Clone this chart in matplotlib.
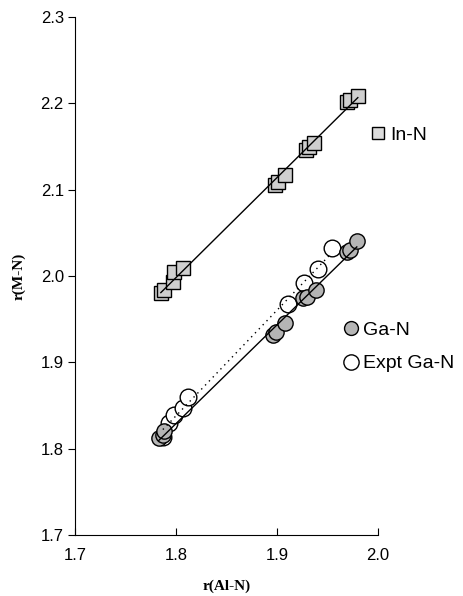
import numpy as np
import matplotlib
matplotlib.use("Agg")
import matplotlib.pyplot as plt
from matplotlib.lines import Line2D

# r(Al-N) vs r(M-N) data
in_x = [1.785, 1.788, 1.797, 1.798, 1.807, 1.898, 1.901, 1.908, 1.929, 1.932, 1.937, 1.969, 1.972, 1.980]
in_y = [1.980, 1.984, 1.993, 2.005, 2.009, 2.105, 2.109, 2.117, 2.146, 2.149, 2.154, 2.202, 2.204, 2.208]

ga_x = [1.783, 1.787, 1.788, 1.896, 1.899, 1.908, 1.926, 1.930, 1.939, 1.969, 1.972, 1.979]
ga_y = [1.812, 1.816, 1.820, 1.932, 1.935, 1.946, 1.974, 1.976, 1.984, 2.028, 2.030, 2.040]

ex_x = [1.787, 1.793, 1.798, 1.807, 1.812, 1.911, 1.927, 1.941, 1.954]
ex_y = [1.814, 1.830, 1.839, 1.847, 1.860, 1.968, 1.992, 2.008, 2.033]

xticks = [1.7, 1.8, 1.9, 2.0]
yticks = [1.7, 1.8, 1.9, 2.0, 2.1, 2.2, 2.3]

plt.rcParams['font.family'] = ['Liberation Sans', 'DejaVu Sans']

fig = plt.figure(figsize=(4.64, 5.96), dpi=100)
ax = fig.add_axes([0.1616, 0.1023, 0.6531, 0.8692])

sq_kw = dict(marker='s', ms=10, mfc='#cfcfcf', mec='black', mew=1.0, ls='none')
ga_kw = dict(marker='o', ms=11, mfc='#b5b5b5', mec='black', mew=1.0, ls='none')
ex_kw = dict(marker='o', ms=12, mfc='white', mec='black', mew=1.0, ls='none')

ax.plot(in_x, in_y, zorder=2, **sq_kw)
ax.plot(ex_x, ex_y, zorder=2, **ex_kw)
ax.plot(ga_x, ga_y, zorder=3, **ga_kw)

# trend lines from linear fits
def fit_line(x, y, style):
    p = np.polyfit(x, y, 1)
    xs = np.array([min(x), max(x)])
    ax.plot(xs, np.polyval(p, xs), color='black', lw=1.0, ls=style, zorder=4)

fit_line(in_x, in_y, '-')
fit_line(ga_x, ga_y, '-')
fit_line(ex_x, ex_y, (0, (1, 3)))

ax.set_xlim(1.7, 2.0)
ax.set_ylim(1.7, 2.3)
ax.set_xticks(xticks)
ax.set_yticks(yticks)
ax.set_xticklabels([f"{t:.1f}" for t in xticks])
ax.set_yticklabels([f"{t:.1f}" for t in yticks])
ax.spines['top'].set_visible(False)
ax.spines['right'].set_visible(False)
ax.tick_params(axis='x', direction='in', length=5, labelsize=12, pad=9)
ax.tick_params(axis='y', direction='out', length=5, labelsize=12, pad=3)

ax.set_xlabel('r(Al-N)', family='Liberation Serif', fontweight='bold', fontsize=11, labelpad=12)
ax.set_ylabel('r(M-N)', family='Liberation Serif', fontweight='bold', fontsize=11, labelpad=11)

h1 = [Line2D([], [], marker='s', ms=9, mfc='#dcdcdc', mec='black', mew=1.0, ls='none')]
leg1 = ax.legend(h1, ['In-N'], loc='center left', bbox_to_anchor=(0.935, 0.772),
                 frameon=False, fontsize=14, handletextpad=0.05, handlelength=1.2,
                 borderaxespad=0)
ax.add_artist(leg1)
h2 = [Line2D([], [], marker='o', ms=10, mfc='#b5b5b5', mec='black', mew=1.0, ls='none'),
      Line2D([], [], marker='o', ms=11, mfc='white', mec='black', mew=1.0, ls='none')]
ax.legend(h2, ['Ga-N', 'Expt Ga-N'], loc='center left', bbox_to_anchor=(0.846, 0.363),
          frameon=False, fontsize=14, handletextpad=0.05, handlelength=1.2,
          labelspacing=0.8, borderaxespad=0)

fig.savefig('out.png', dpi=100)
